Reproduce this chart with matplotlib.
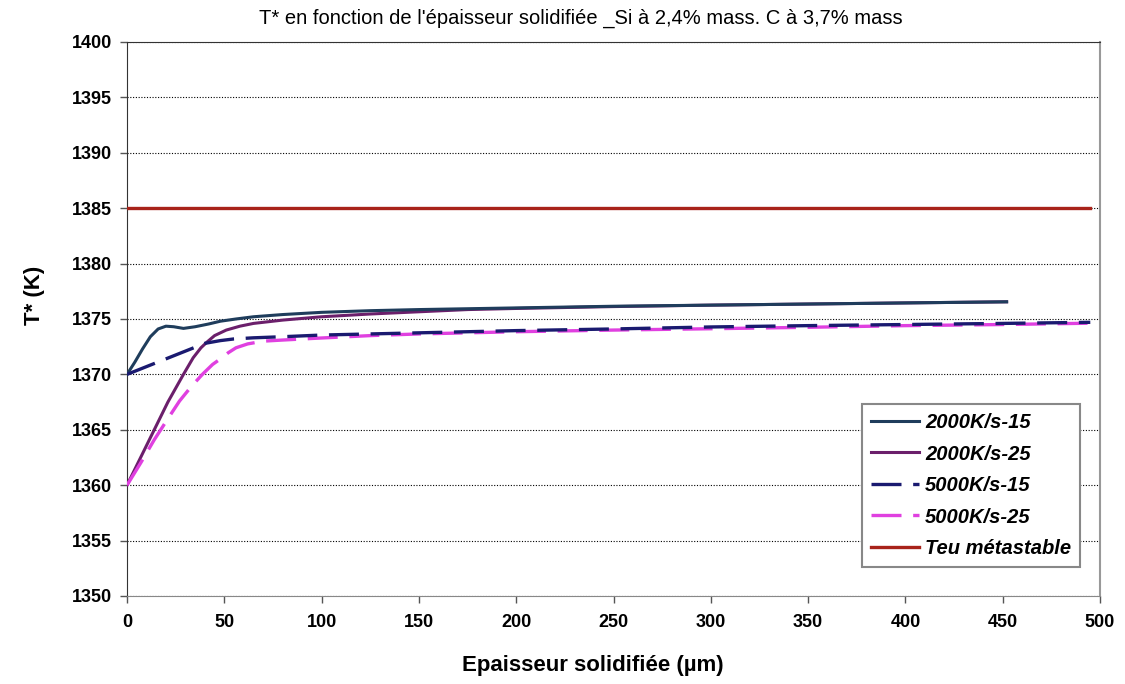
# -*- coding: utf-8 -*-
"""
T* en fonction de l'epaisseur solidifiee, Si 2.4% / C 3.7%.
"""

import matplotlib as mpl
from matplotlib import pyplot as plt

mpl.rcParams["font.family"] = ["Liberation Sans", "DejaVu Sans"]

# 2000 K/s, 15
x_2000_15 = [0, 4, 8, 12, 16, 20, 24, 29, 35, 42, 48, 56, 65, 80, 100, 125, 150, 200, 250, 300, 350, 400, 452]
t_2000_15 = [1370.0, 1371.1, 1372.3, 1373.4, 1374.1, 1374.35, 1374.3, 1374.15, 1374.3, 1374.55, 1374.8, 1375.0,
             1375.2, 1375.4, 1375.6, 1375.75, 1375.85, 1376.0, 1376.15, 1376.25, 1376.35, 1376.45, 1376.55]
# 2000 K/s, 25
x_2000_25 = [0, 7, 14, 21, 29, 34, 38, 41, 45, 51, 58, 65, 80, 100, 125, 150, 175, 200, 250, 300, 350, 400, 452]
t_2000_25 = [1360.0, 1362.5, 1365.0, 1367.5, 1370.0, 1371.5, 1372.4, 1372.9, 1373.5, 1374.0, 1374.35, 1374.6,
             1374.9, 1375.2, 1375.45, 1375.65, 1375.85, 1375.95, 1376.12, 1376.25, 1376.35, 1376.45, 1376.55]
# 5000 K/s, 15
x_5000_15 = [0, 20, 40, 48, 55, 65, 80, 100, 150, 200, 250, 300, 350, 400, 450, 495]
t_5000_15 = [1370.0, 1371.4, 1372.8, 1373.05, 1373.2, 1373.3, 1373.4, 1373.55, 1373.75, 1373.95, 1374.1,
             1374.28, 1374.4, 1374.5, 1374.6, 1374.7]
# 5000 K/s, 25
x_5000_25 = [0, 7, 14, 21, 27, 33, 39, 44, 48, 52, 56, 62, 70, 80, 96, 125, 150, 200, 250, 300, 350, 400, 450, 495]
t_5000_25 = [1360.0, 1362.0, 1364.1, 1366.0, 1367.6, 1368.9, 1370.05, 1370.9, 1371.4, 1371.95, 1372.4, 1372.75,
             1373.0, 1373.1, 1373.25, 1373.5, 1373.65, 1373.85, 1374.0, 1374.12, 1374.25, 1374.4, 1374.5, 1374.62]
# Teu metastable
x_teu = [0, 495]
t_teu = [1385, 1385]

labels = ["2000K/s-15", "2000K/s-25", "5000K/s-15", "5000K/s-25", "Teu métastable"]

if __name__ == "__main__":
    fig = plt.figure(figsize=(11.25, 6.84), dpi=100)
    ax = fig.add_axes([0.1129, 0.1287, 0.8649, 0.8099])

    ax.plot(x_2000_15, t_2000_15, color="#1f3d5c", lw=2.2, label=labels[0], zorder=4)
    ax.plot(x_2000_25, t_2000_25, color="#6b1f6b", lw=2.2, label=labels[1], zorder=3)
    ax.plot(x_5000_15, t_5000_15, color="#1a1a70", lw=2.4, dashes=(9, 3.5), label=labels[2], zorder=4)
    ax.plot(x_5000_25, t_5000_25, color="#e040e0", lw=2.4, dashes=(9, 3.5), label=labels[3], zorder=3)
    ax.plot(x_teu, t_teu, color="#a8231a", lw=2.4, label=labels[4], zorder=3)

    ax.set(xlim=[0, 500], ylim=[1350, 1400])
    ax.set_xticks(range(0, 501, 50))
    ax.set_yticks(range(1350, 1401, 5))
    ax.yaxis.grid(True, color="black", linestyle=(0, (1, 1.5)), linewidth=0.8)
    ax.set_axisbelow(True)
    ax.tick_params(direction="out", length=5, width=1, color="#555555", labelsize=13)
    for lab in ax.get_xticklabels() + ax.get_yticklabels():
        lab.set_fontweight("bold")
    ax.tick_params(axis="x", pad=8)
    ax.tick_params(axis="y", pad=6)

    ax.spines["left"].set_color("#333333")
    ax.spines["bottom"].set_color("#888888")
    ax.spines["top"].set_color("#333333")
    ax.spines["right"].set_color("#999999")
    ax.spines["right"].set_linewidth(1.5)

    ax.set_xlabel("Epaisseur solidifiée (µm)", fontsize=16, fontweight="bold")
    ax.xaxis.set_label_coords(0.479, -0.106)
    ax.set_ylabel("T* (K)", fontsize=16, fontweight="bold")
    ax.yaxis.set_label_coords(-0.084, 0.543)
    fig.text(0.516, 0.973, "T* en fonction de l'épaisseur solidifiée _Si à 2,4% mass. C à 3,7% mass",
             fontsize=14.5, ha="center", va="center")

    leg = ax.legend(loc="lower right", bbox_to_anchor=(0.99, 0.034),
                    prop={"size": 14.5, "weight": "bold", "style": "italic"},
                    frameon=True, fancybox=False, handlelength=2.4, handletextpad=0.3,
                    labelspacing=0.62, borderpad=0.45)
    leg.get_frame().set_edgecolor("#888888")
    leg.get_frame().set_linewidth(1.5)
    leg.get_frame().set_alpha(1)

    plt.savefig("out.png", dpi=100)
    plt.close()
